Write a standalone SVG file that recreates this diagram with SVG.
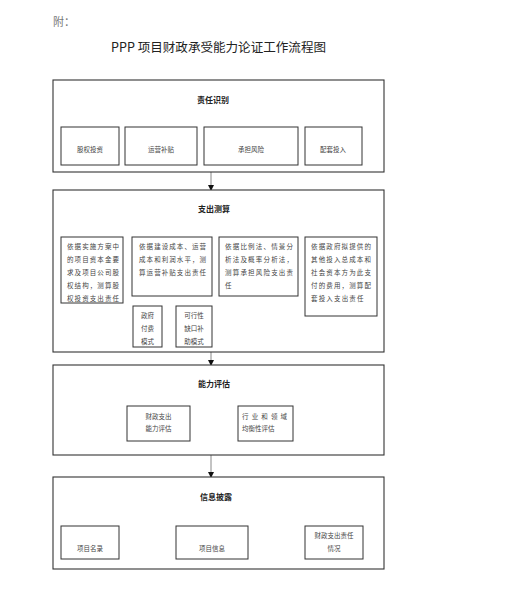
<svg xmlns="http://www.w3.org/2000/svg" width="507" height="604" viewBox="0 0 507 604">
<defs>
<marker id="ah" markerWidth="6" markerHeight="6" refX="5" refY="3" orient="auto" markerUnits="userSpaceOnUse">
<path d="M0,0 L6,3 L0,6 Z" fill="#111"/>
</marker>
<style>
text{font-family:"Noto Sans CJK SC","Liberation Sans",sans-serif;}
.box{fill:#fff;stroke:#333;stroke-width:1;}
.sec{fill:#fff;stroke:#333;stroke-width:1.1;}
.t{font-size:6.5px;fill:#444;}
.c{font-size:6.5px;fill:#444;text-anchor:middle;}
.h{font-size:8px;font-weight:bold;fill:#222;text-anchor:middle;}
.ln{fill:none;stroke:#333;stroke-width:1;}
.ar{fill:none;stroke:#888;stroke-width:1;marker-end:url(#ah);}
</style>
</defs>
<rect width="507" height="604" fill="#fff"/>
<g id="header">
<text x="53" y="26" font-size="11" fill="#777">附：</text>
<text x="111" y="51.5" font-size="12.5" fill="#222" textLength="215" lengthAdjust="spacingAndGlyphs">PPP 项目财政承受能力论证工作流程图</text>
</g>

<g id="connectors">
<path class="ln" d="M90,127 V115 H334 V127 M161,115 V127 M233,115 V127"/>
<path class="ln" d="M90,237 V224 H334 V237 M170,224 V237 M260,224 V237"/>
<path class="ln" d="M147,296 V306 M193,296 V306"/>
<path class="ln" d="M90,526 V512 H334 V526 M212,512 V526"/>
<line class="ar" x1="211" y1="172" x2="211" y2="190"/>
<line class="ar" x1="211" y1="352" x2="211" y2="365"/>
<line class="ar" x1="211" y1="455" x2="211" y2="477"/>
<line x1="190" y1="421" x2="238" y2="422.5" stroke="#222" stroke-width="1" marker-end="url(#ah)"/>
</g>

<g id="sec1">
<rect class="sec" x="53" y="80" width="331" height="92"/>
<text class="h" x="213" y="103">责任识别</text>
</g>
<g id="n-guquan"><rect class="box" x="61" y="127" width="58" height="38"/><text class="c" x="90" y="151.5">股权投资</text></g>
<g id="n-yunying"><rect class="box" x="125" y="127" width="72" height="38"/><text class="c" x="161" y="151.5">运营补贴</text></g>
<g id="n-chengdan"><rect class="box" x="204" y="127" width="94" height="38"/><text class="c" x="251" y="151.5">承担风险</text></g>
<g id="n-peitao"><rect class="box" x="305" y="127" width="57" height="38"/><text class="c" x="333" y="151.5">配套投入</text></g>

<g id="sec2">
<rect class="sec" x="53" y="190" width="331" height="162"/>
<text class="h" x="214" y="212">支出测算</text>
</g>
<g id="n-a">
<rect class="box" x="61" y="237" width="62" height="66"/>
<text class="t" x="67" y="248.5" textLength="52" lengthAdjust="spacing">依据实施方案中</text>
<text class="t" x="67" y="261.5" textLength="52" lengthAdjust="spacing">的项目资本金要</text>
<text class="t" x="67" y="274.5" textLength="52" lengthAdjust="spacing">求及项目公司股</text>
<text class="t" x="67" y="287.5" textLength="52" lengthAdjust="spacing">权结构，测算股</text>
<text class="t" x="67" y="300.5" textLength="52" lengthAdjust="spacing">权投资支出责任</text>
</g>
<g id="n-b">
<rect class="box" x="132" y="237" width="80" height="59"/>
<text class="t" x="139" y="248.5" textLength="67" lengthAdjust="spacing">依据建设成本、运营</text>
<text class="t" x="139" y="261.5" textLength="67" lengthAdjust="spacing">成本和利润水平，测</text>
<text class="t" x="139" y="274.5" textLength="67" lengthAdjust="spacing">算运营补贴支出责任</text>
</g>
<g id="n-c">
<rect class="box" x="219" y="237" width="79" height="59"/>
<text class="t" x="225" y="248.5" textLength="68" lengthAdjust="spacing">依据比例法、情景分</text>
<text class="t" x="225" y="261.5" textLength="68" lengthAdjust="spacing">析法及概率分析法，</text>
<text class="t" x="225" y="274.5" textLength="68" lengthAdjust="spacing">测算承担风险支出责</text>
<text class="t" x="225" y="287.5">任</text>
</g>
<g id="n-d">
<rect class="box" x="305" y="237" width="72" height="79"/>
<text class="t" x="311" y="248.5" textLength="60" lengthAdjust="spacing">依据政府拟提供的</text>
<text class="t" x="311" y="261.5" textLength="60" lengthAdjust="spacing">其他投入总成本和</text>
<text class="t" x="311" y="274.5" textLength="60" lengthAdjust="spacing">社会资本方为此支</text>
<text class="t" x="311" y="287.5" textLength="60" lengthAdjust="spacing">付的费用，测算配</text>
<text class="t" x="311" y="300.5" textLength="52.5" lengthAdjust="spacing">套投入支出责任</text>
</g>
<g id="n-zhengfu">
<rect class="box" x="133" y="306" width="29" height="41"/>
<text class="c" x="147.5" y="318">政府</text>
<text class="c" x="147.5" y="331">付费</text>
<text class="c" x="147.5" y="344">模式</text>
</g>
<g id="n-kexing">
<rect class="box" x="176" y="306" width="36" height="41"/>
<text class="c" x="194" y="318">可行性</text>
<text class="c" x="194" y="331">缺口补</text>
<text class="c" x="194" y="344">助模式</text>
</g>

<g id="sec3">
<rect class="sec" x="53" y="365" width="331" height="90"/>
<text class="h" x="214" y="387">能力评估</text>
</g>
<g id="n-caizheng">
<rect class="box" x="127" y="406" width="63" height="35"/>
<text class="c" x="158.5" y="418.5">财政支出</text>
<text class="c" x="158.5" y="431">能力评估</text>
</g>
<g id="n-hangye">
<rect class="box" x="238" y="406" width="55" height="35"/>
<text class="t" x="242" y="418.5" textLength="45" lengthAdjust="spacing">行业和领域</text>
<text class="t" x="242" y="431">均衡性评估</text>
</g>

<g id="sec4">
<rect class="sec" x="53" y="477" width="331" height="92"/>
<text class="h" x="216" y="500">信息披露</text>
</g>
<g id="n-minglu"><rect class="box" x="61" y="526" width="58" height="33"/><text class="c" x="90" y="550.5">项目名录</text></g>
<g id="n-xinxi"><rect class="box" x="176" y="526" width="72" height="33"/><text class="c" x="212" y="550.5">项目信息</text></g>
<g id="n-zeren">
<rect class="box" x="305" y="526" width="58" height="33"/>
<text class="c" x="334" y="537.5">财政支出责任</text>
<text class="c" x="334" y="550.5">情况</text>
</g>
</svg>
